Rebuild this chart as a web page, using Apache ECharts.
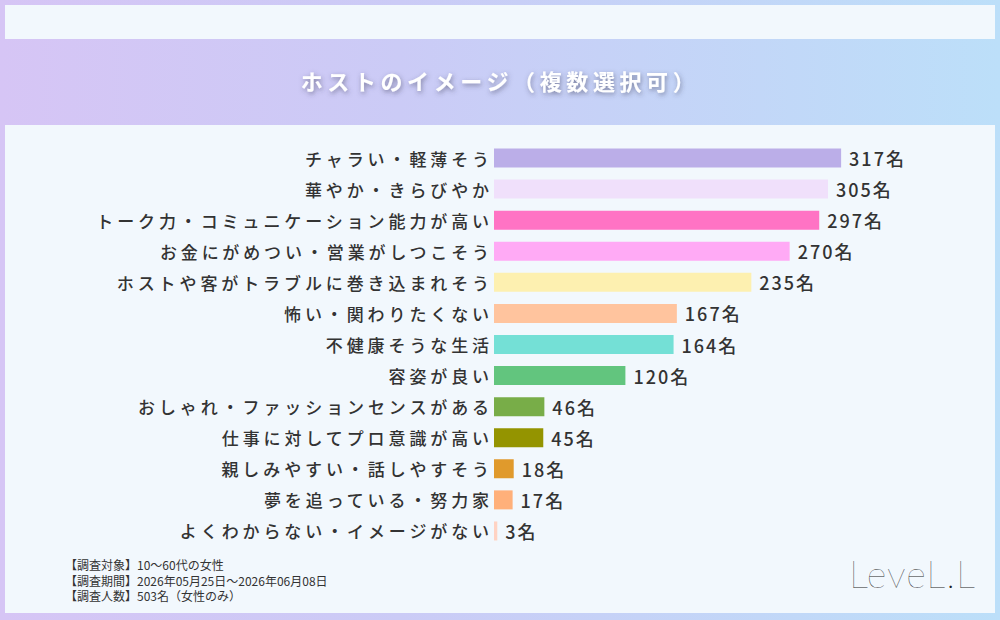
<!DOCTYPE html>
<html>
<head>
<meta charset="utf-8">
<script src="https://cdn.jsdelivr.net/npm/echarts@6/dist/echarts.min.js"></script>
<style>
  html, body { margin: 0; padding: 0; }
  #main { width: 1000px; height: 620px; }
  /* canvas text has no letter spacing, so the svg renderer + css does it */
  #main text { letter-spacing: 3.9px; }
  #main text[style*="18px"] { letter-spacing: 2px; }
  #main text[style*="22px"] { letter-spacing: 4.6px; }
  #main text[style*="12px"] { letter-spacing: 0; }
  #main text[style*="38px"] { letter-spacing: 1px; }
</style>
</head>
<body>
<div id="main"></div>
<script>
const categories = [
  'チャラい・軽薄そう',
  '華やか・きらびやか',
  'トーク力・コミュニケーション能力が高い',
  'お金にがめつい・営業がしつこそう',
  'ホストや客がトラブルに巻き込まれそう',
  '怖い・関わりたくない',
  '不健康そうな生活',
  '容姿が良い',
  'おしゃれ・ファッションセンスがある',
  '仕事に対してプロ意識が高い',
  '親しみやすい・話しやすそう',
  '夢を追っている・努力家',
  'よくわからない・イメージがない'
];
const values = [317, 305, 297, 270, 235, 167, 164, 120, 46, 45, 18, 17, 3];
const barColors = [
  '#bbaee8', '#f0e0fb', '#ff73c4', '#ffaaf5', '#fdf0b0', '#ffc49e', '#74e0d6',
  '#62c57e', '#78ad48', '#949400', '#e09a2c', '#ffb07a', '#ffd3c3'
];
const titleText = 'ホストのイメージ（複数選択可）';
const footnotes = [
  '【調査対象】10〜60代の女性',
  '【調査期間】2026年05月25日〜2026年06月08日',
  '【調査人数】503名（女性のみ）'
];
const logoText = 'LeveL.L';

const FONT = "'Noto Sans CJK JP', 'Noto Sans', sans-serif";

const chart = echarts.init(document.getElementById('main'), null, { renderer: 'svg' });

const option = {
  animation: false,
  backgroundColor: new echarts.graphic.LinearGradient(0, 0, 1, 0, [
    { offset: 0, color: '#d6c5f5' },
    { offset: 0.4, color: '#cbcbf6' },
    { offset: 1, color: '#bcdff9' }
  ]),
  title: {
    text: titleText,
    left: 'center',
    top: 68,
    padding: 0,
    textStyle: {
      color: '#ffffff',
      fontFamily: FONT,
      fontSize: 22,
      fontWeight: 'bold',
      lineHeight: 24,
      textShadowColor: 'rgba(60,60,90,0.55)',
      textShadowBlur: 5,
      textShadowOffsetX: 1,
      textShadowOffsetY: 2
    }
  },
  graphic: [
    {
      type: 'rect', z: -10, silent: true,
      shape: { x: 5, y: 5, width: 990, height: 34 },
      style: { fill: '#f2f8fd' }
    },
    {
      type: 'rect', z: -10, silent: true,
      shape: { x: 5, y: 125, width: 990, height: 488 },
      style: { fill: '#f2f8fd' }
    },
    {
      type: 'text', silent: true,
      x: 65, y: 557,
      style: {
        text: footnotes.join('\n'),
        fill: '#333333',
        font: "12px 'Noto Sans CJK JP', sans-serif",
        lineHeight: 15.5
      }
    },
    {
      type: 'text', silent: true,
      x: 849, y: 573,
      style: {
        text: logoText,
        fill: '#1e1e1e',
        font: "100 38px Lato, 'Noto Sans', sans-serif",
        verticalAlign: 'middle'
      }
    }
  ],
  grid: { left: 494, top: 142.5, width: 438, height: 404, containLabel: false },
  xAxis: {
    type: 'value',
    min: 0,
    max: 400,
    show: false
  },
  yAxis: {
    type: 'category',
    data: categories,
    inverse: true,
    axisLine: { show: false },
    axisTick: { show: false },
    splitLine: { show: false },
    axisLabel: {
      margin: 1,
      color: '#333333',
      fontFamily: FONT,
      fontSize: 17,
      fontWeight: 500
    }
  },
  series: [
    {
      type: 'bar',
      data: values.map((v, i) => ({ value: v, itemStyle: { color: barColors[i] } })),
      barWidth: 19,
      label: {
        show: true,
        position: 'right',
        distance: 8,
        formatter: '{c}名',
        color: '#333333',
        fontFamily: FONT,
        fontSize: 18,
        fontWeight: 500
      }
    }
  ]
};

chart.setOption(option);
</script>
</body>
</html>
